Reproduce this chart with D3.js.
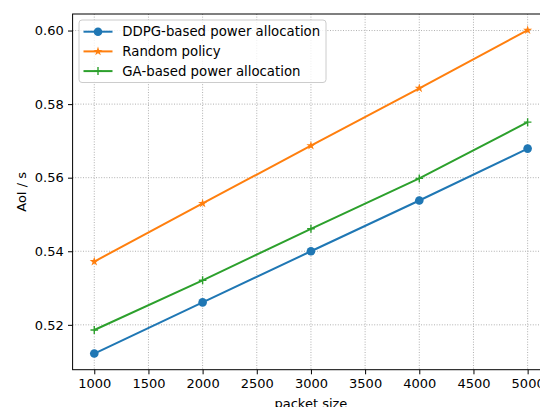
<!DOCTYPE html>
<html>
<head>
<meta charset="utf-8">
<script src="https://cdn.jsdelivr.net/npm/d3@7"></script>
<style>
  html, body { margin: 0; padding: 0; background: #fff; overflow: hidden; }
  svg { display: block; font-family: 'DejaVu Sans', sans-serif; }
</style>
</head>
<body>
<div class="chart"></div>
<script>
'use strict'
const packetSizes = [1000, 2000, 3000, 4000, 5000]
const ddpg = [0.5122, 0.5261, 0.5400, 0.5538, 0.5679]
const randomPolicy = [0.5372, 0.5530, 0.5687, 0.5843, 0.6001]
const ga = [0.5186, 0.5321, 0.5461, 0.5598, 0.5751]
const seriesNames = ['DDPG-based power allocation', 'Random policy', 'GA-based power allocation']
const xTicks = [1000, 1500, 2000, 2500, 3000, 3500, 4000, 4500, 5000]
const yTicks = [0.52, 0.54, 0.56, 0.58, 0.60]

const width = 540
const height = 407
const plotLeft = 72.6
const plotRight = 549.3
const plotTop = 14
const plotBottom = 369.7
const fontSize = 13

const series = [
  { name: seriesNames[0], values: ddpg, color: '#1f77b4', marker: 'circle' },
  { name: seriesNames[1], values: randomPolicy, color: '#ff7f0e', marker: 'star' },
  { name: seriesNames[2], values: ga, color: '#2ca02c', marker: 'plus' }
]

const allY = ddpg.concat(randomPolicy, ga)
const yMin = d3.min(allY)
const yMax = d3.max(allY)
const yPad = (yMax - yMin) * 0.05

const x = d3.scaleLinear().domain([800, 5200]).range([plotLeft, plotRight])
const y = d3.scaleLinear().domain([yMin - yPad, yMax + yPad]).range([plotBottom, plotTop])

const svg = d3.select('.chart').append('svg')
  .attr('width', width)
  .attr('height', height)

// grid
const grid = svg.append('g')
grid.selectAll('.gx').data(xTicks).enter().append('line')
  .attr('x1', d => x(d)).attr('x2', d => x(d))
  .attr('y1', plotTop).attr('y2', plotBottom)
grid.selectAll('.gy').data(yTicks).enter().append('line')
  .attr('x1', plotLeft).attr('x2', plotRight)
  .attr('y1', d => y(d)).attr('y2', d => y(d))
grid.selectAll('line')
  .attr('stroke', '#b0b0b0')
  .attr('stroke-width', 1)
  .attr('stroke-dasharray', '1,1.6')

// axes
const xAxis = svg.append('g')
  .attr('transform', 'translate(0,' + plotBottom + ')')
  .call(d3.axisBottom(x).tickValues(xTicks).tickSize(4.6).tickPadding(4.3).tickFormat(d3.format('d')))
const yAxis = svg.append('g')
  .attr('transform', 'translate(' + plotLeft + ',0)')
  .call(d3.axisLeft(y).tickValues(yTicks).tickSize(4.6).tickPadding(4.3).tickFormat(d3.format('.2f')))
;[xAxis, yAxis].forEach(function (a) {
  a.select('.domain').remove()
  a.selectAll('line').attr('stroke', '#000').attr('stroke-width', 1)
  a.selectAll('text').attr('font-size', fontSize).attr('fill', '#000')
    .attr('font-family', 'DejaVu Sans, sans-serif')
})

// frame
svg.append('rect')
  .attr('x', plotLeft).attr('y', plotTop)
  .attr('width', plotRight - plotLeft).attr('height', plotBottom - plotTop)
  .attr('fill', 'none').attr('stroke', '#000').attr('stroke-width', 1)

// labels
svg.append('text')
  .attr('x', (plotLeft + plotRight) / 2).attr('y', 408)
  .attr('text-anchor', 'middle').attr('font-size', fontSize)
  .text('packet size')
svg.append('text')
  .attr('transform', 'translate(26,' + ((plotTop + plotBottom) / 2) + ')rotate(-90)')
  .attr('text-anchor', 'middle').attr('font-size', fontSize)
  .text('AoI / s')

const starPath = function (r) {
  const pts = []
  for (let i = 0; i < 10; i++) {
    const a = -Math.PI / 2 + i * Math.PI / 5
    const rr = i % 2 === 0 ? r : r * 0.382
    pts.push([rr * Math.cos(a), rr * Math.sin(a)])
  }
  return 'M' + pts.map(p => p[0].toFixed(2) + ',' + p[1].toFixed(2)).join('L') + 'Z'
}

const drawMarker = function (g, s) {
  if (s.marker === 'circle') {
    g.append('circle').attr('r', 4.3).attr('fill', s.color)
  } else if (s.marker === 'star') {
    g.append('path').attr('d', starPath(4.8)).attr('fill', s.color)
  } else {
    g.append('path').attr('d', 'M-3.8,0L3.8,0M0,-4L0,4')
      .attr('stroke', s.color).attr('stroke-width', 1.4).attr('fill', 'none')
  }
}

const line = d3.line()
  .x((d, i) => x(packetSizes[i]))
  .y(d => y(d))

series.forEach(function (s) {
  svg.append('path')
    .datum(s.values)
    .attr('d', line)
    .attr('fill', 'none')
    .attr('stroke', s.color)
    .attr('stroke-width', 2)
  s.values.forEach(function (v, i) {
    const g = svg.append('g').attr('transform', 'translate(' + x(packetSizes[i]) + ',' + y(v) + ')')
    drawMarker(g, s)
  })
})

// legend
const legend = svg.append('g')
legend.append('rect')
  .attr('x', 79).attr('y', 20)
  .attr('width', 247).attr('height', 62.5)
  .attr('rx', 3)
  .attr('fill', '#fff').attr('fill-opacity', 0.8)
  .attr('stroke', '#ccc').attr('stroke-width', 1)
series.forEach(function (s, i) {
  const cy = 31.7 + i * 19.7
  legend.append('line')
    .attr('x1', 83.5).attr('x2', 112.5)
    .attr('y1', cy).attr('y2', cy)
    .attr('stroke', s.color).attr('stroke-width', 2)
  const g = legend.append('g').attr('transform', 'translate(98,' + cy + ')')
  drawMarker(g, s)
  legend.append('text')
    .attr('x', 122.3).attr('y', cy + 4.7)
    .attr('font-size', 13.3)
    .text(s.name)
})
</script>
</body>
</html>
